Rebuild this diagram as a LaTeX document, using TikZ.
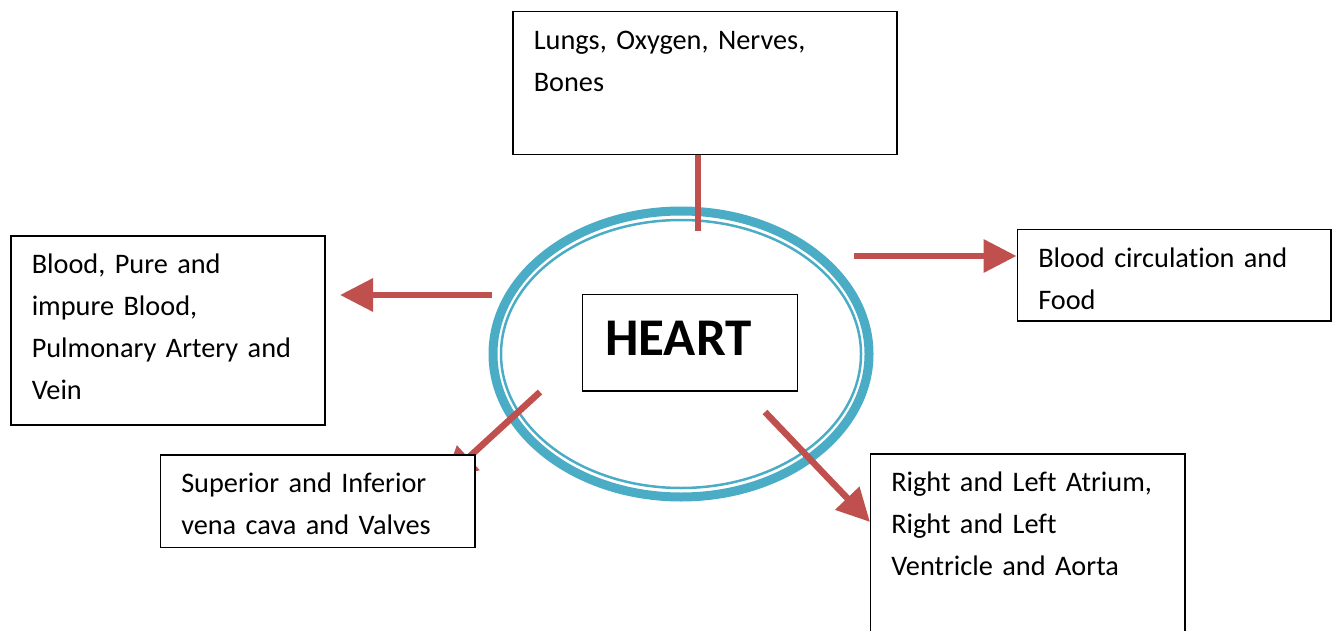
\documentclass[tikz,border=0pt]{standalone}
\usepackage{fontspec}
\setmainfont{Carlito}[Ligatures=CommonOff]
\usetikzlibrary{arrows.meta,backgrounds}
\definecolor{linkred}{HTML}{C0504D}
\definecolor{ringblue}{HTML}{4BACC6}

\begin{document}
\begin{tikzpicture}[x=1pt,y=-1pt,
	box/.style={draw,line width=1.5pt,fill=white,anchor=north west,align=left,
		inner xsep=21pt,inner ysep=0pt,text height=38pt,font=\fontsize{28.3}{42}\selectfont},
	link/.style={linkred,line width=6.5pt},
	arrow/.style={link,-{Triangle[length=33pt,width=32pt]}}]
	\useasboundingbox (0,0) rectangle (1337,631);
	\node[box,text width=342pt,text depth=105pt] (lungs) at (512,11) {Lungs, Oxygen, Nerves,\\Bones};
	\node[box,text width=272pt,text depth=151pt] (blood) at (10,235) {Blood, Pure and\\impure Blood,\\Pulmonary Artery and\\Vein};
	\node[box,text width=271.5pt,text depth=53.5pt] (food) at (1016.5,228.5) {Blood circulation and\\Food};
	\node[box,text width=272.5pt,text depth=54.5pt] (vena) at (159.5,454) {Superior and Inferior\\vena cava and Valves};
	\node[box,text width=272.5pt,text depth=170pt] (atrium) at (869.5,453) {Right and Left Atrium,\\Right and Left\\Ventricle and Aorta};
	\node[box,inner xsep=23pt,text width=169pt,text height=61.5pt,text depth=35pt,
		font=\fontsize{53}{60}\selectfont\bfseries] (heart) at (581.5,293.5) {HEART};
	\coordinate (lungsend) at (698,231);
	\coordinate (bloodstart) at (492,295);
	\coordinate (bloodtip) at (340,295);
	\coordinate (foodstart) at (854,256);
	\coordinate (venastart) at (540,392);
	\coordinate (venatip) at (444,480);
	\coordinate (atriumstart) at (765,412);
	\coordinate (atriumtip) at (870,522);
	\begin{scope}[on background layer]
		% double ring round the heart box
		\draw[ringblue,line width=9pt] (681,354) ellipse [x radius=188pt,y radius=143pt];
		\draw[ringblue,line width=2.5pt] (681,354) ellipse [x radius=180pt,y radius=134pt];
		\draw[link] (lungs.south -| lungsend) -- (lungsend);
		\draw[arrow] (bloodstart) -- (bloodtip);
		\draw[arrow] (foodstart) -- (food.west |- foodstart);
		\draw[arrow] (venastart) -- (venatip);
		\draw[arrow] (atriumstart) -- (atriumtip);
	\end{scope}
\end{tikzpicture}
\end{document}
